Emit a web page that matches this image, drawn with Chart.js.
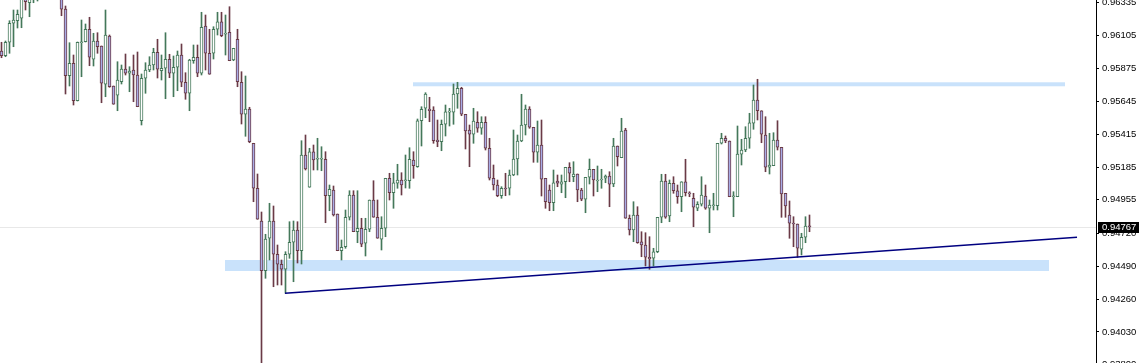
<!DOCTYPE html>
<html><head><meta charset="utf-8">
<script src="https://cdn.jsdelivr.net/npm/chart.js@4.4.1/dist/chart.umd.min.js"></script>
<style>
html,body{margin:0;padding:0;background:#fff;overflow:hidden;width:1143px;height:363px}
#wrap{position:absolute;left:0;top:-20px;width:1143px;height:403px}
</style></head><body><div id="wrap"><canvas id="c" width="1143" height="403"></canvas></div>
<script>
const openP = [0.95997,0.95964,0.96058,0.96191,0.96209,0.96226,0.96389,0.96335,0.96382,0.96396,
0.96438,0.96460,0.96440,0.96470,0.96450,0.96396,0.96291,0.95824,0.95911,0.95649,
0.96055,0.96062,0.96149,0.95939,0.96067,0.96032,0.95764,0.96102,0.95752,0.95687,
0.95782,0.95871,0.95841,0.95864,0.95829,0.95509,0.95806,0.95864,0.95899,0.95988,
0.95859,0.95876,0.95939,0.95841,0.95883,0.95969,0.95778,0.95701,0.95929,0.95953,
0.95841,0.96172,0.95981,0.95981,0.96149,0.96202,0.96114,0.96128,0.95934,0.96079,
0.95778,0.95554,0.95591,0.95351,0.95036,0.94807,0.94459,0.94686,0.94807,0.94574,
0.94504,0.94469,0.94574,0.94658,0.94744,0.94599,0.95269,0.95043,0.95292,0.95239,
0.95239,0.95239,0.94984,0.95024,0.94856,0.94599,0.94627,0.94833,0.94989,0.94732,
0.94756,0.94651,0.94749,0.94954,0.94833,0.94679,0.94756,0.95106,0.95005,0.95071,
0.95094,0.95089,0.95089,0.95234,0.95187,0.95509,0.95596,0.95591,0.95584,0.95374,
0.95362,0.95484,0.95568,0.95568,0.95696,0.95736,0.95554,0.95444,0.95414,0.95498,
0.95456,0.95498,0.95316,0.95106,0.95059,0.94984,0.95036,0.95036,0.95129,0.95241,
0.95367,0.95479,0.95591,0.95463,0.95288,0.95339,0.95106,0.95024,0.94935,0.95087,
0.95064,0.95082,0.95183,0.95117,0.95136,0.95024,0.94959,0.95113,0.95169,0.95087,
0.95094,0.95106,0.95122,0.95066,0.95332,0.95250,0.95444,0.94826,0.94744,0.94849,
0.94662,0.94639,0.94553,0.94546,0.94592,0.94833,0.95087,0.94842,0.95071,0.95019,
0.94977,0.95082,0.95005,0.94966,0.94896,0.94924,0.94982,0.94896,0.94914,0.94914,
0.95351,0.95386,0.95367,0.94977,0.94977,0.95274,0.95304,0.95386,0.95491,0.95654,
0.95579,0.95409,0.95183,0.95194,0.95374,0.95323,0.95001,0.94849,0.94791,0.94786,
0.94609,0.94693,0.94772];
const highP = [0.96058,0.96067,0.96209,0.96284,0.96284,0.96410,0.96424,0.96410,0.96452,0.96466,
0.96480,0.96500,0.96490,0.96500,0.96480,0.96438,0.96312,0.96055,0.95969,0.96060,
0.96214,0.96186,0.96233,0.96121,0.96125,0.96032,0.96284,0.96109,0.95752,0.95922,
0.95899,0.95976,0.95887,0.95969,0.95990,0.95836,0.95915,0.95957,0.96016,0.96079,
0.95969,0.96125,0.95974,0.95962,0.95997,0.96046,0.95845,0.95939,0.96039,0.96039,
0.96268,0.96249,0.96149,0.96167,0.96268,0.96268,0.96249,0.96307,0.96016,0.96149,
0.95852,0.95822,0.95603,0.95351,0.95136,0.94870,0.94714,0.94931,0.94912,0.94639,
0.94534,0.94592,0.94802,0.94807,0.94802,0.95369,0.95409,0.95316,0.95339,0.95386,
0.95327,0.95292,0.95059,0.95052,0.94856,0.94674,0.94884,0.95019,0.95019,0.95019,
0.94826,0.94826,0.94954,0.95089,0.94954,0.94837,0.95106,0.95141,0.95141,0.95204,
0.95145,0.95269,0.95320,0.95292,0.95521,0.95607,0.95705,0.95673,0.95607,0.95514,
0.95514,0.95619,0.95596,0.95766,0.95778,0.95743,0.95554,0.95479,0.95596,0.95572,
0.95537,0.95537,0.95386,0.95199,0.95094,0.95047,0.95141,0.95164,0.95444,0.95409,
0.95694,0.95619,0.95607,0.95463,0.95507,0.95514,0.95106,0.95059,0.95164,0.95129,
0.95129,0.95183,0.95215,0.95222,0.95136,0.95036,0.95113,0.95241,0.95169,0.95192,
0.95169,0.95129,0.95152,0.95386,0.95332,0.95526,0.95456,0.94849,0.94942,0.94907,
0.94732,0.94725,0.94697,0.94616,0.94833,0.95134,0.95134,0.95094,0.95117,0.95059,
0.95082,0.95239,0.95012,0.95001,0.94942,0.95117,0.95059,0.94954,0.95001,0.95351,
0.95421,0.95402,0.95367,0.95012,0.95472,0.95379,0.95467,0.95561,0.95759,0.95799,
0.95579,0.95537,0.95421,0.95425,0.95509,0.95323,0.95001,0.94947,0.94837,0.94786,
0.94721,0.94837,0.94849];
const lowP = [0.95950,0.95957,0.95981,0.96027,0.96158,0.96160,0.96284,0.96237,0.96335,0.96347,
0.96400,0.96420,0.96410,0.96430,0.96400,0.96244,0.95696,0.95752,0.95619,0.95647,
0.95817,0.96060,0.95894,0.95892,0.95981,0.95635,0.95677,0.95743,0.95624,0.95579,
0.95766,0.95829,0.95712,0.95642,0.95607,0.95479,0.95701,0.95852,0.95864,0.95808,
0.95794,0.95663,0.95810,0.95677,0.95719,0.95747,0.95659,0.95579,0.95911,0.95817,
0.95829,0.95864,0.95834,0.95941,0.96109,0.96097,0.95969,0.95929,0.95929,0.95747,
0.95486,0.95400,0.95355,0.94942,0.94819,0.93815,0.94406,0.94534,0.94347,0.94359,
0.94359,0.94301,0.94546,0.94382,0.94513,0.94506,0.95164,0.95043,0.95164,0.95164,
0.95159,0.94795,0.94879,0.94842,0.94599,0.94534,0.94616,0.94814,0.94732,0.94655,
0.94627,0.94562,0.94732,0.94833,0.94686,0.94604,0.94697,0.94954,0.94896,0.95036,
0.94989,0.95038,0.95036,0.95106,0.95183,0.95332,0.95530,0.95502,0.95351,0.95327,
0.95299,0.95402,0.95472,0.95484,0.95596,0.95544,0.95311,0.95187,0.95351,0.95428,
0.95414,0.95304,0.95094,0.95024,0.94977,0.94966,0.94984,0.94989,0.95124,0.95129,
0.95362,0.95409,0.95456,0.95218,0.95218,0.94982,0.94896,0.94879,0.94879,0.95047,
0.95005,0.94970,0.95082,0.95082,0.94942,0.94949,0.94865,0.95066,0.94982,0.95012,
0.95036,0.95075,0.94907,0.95047,0.95192,0.95250,0.94826,0.94709,0.94662,0.94651,
0.94557,0.94492,0.94469,0.94492,0.94585,0.94795,0.94826,0.94802,0.95001,0.94931,
0.94872,0.94982,0.94977,0.94767,0.94879,0.94912,0.94889,0.94725,0.94884,0.94884,
0.95346,0.95355,0.94977,0.94837,0.94977,0.95199,0.95292,0.95316,0.95449,0.95514,
0.95355,0.95152,0.95136,0.95194,0.95304,0.94833,0.94833,0.94686,0.94627,0.94553,
0.94569,0.94655,0.94732];
const closeP = [0.95964,0.96058,0.96191,0.96214,0.96254,0.96368,0.96342,0.96375,0.96424,0.96438,
0.96460,0.96440,0.96470,0.96450,0.96420,0.96289,0.95824,0.95911,0.95649,0.96058,
0.96060,0.96149,0.95953,0.96067,0.96027,0.95771,0.96109,0.95747,0.95624,0.95794,
0.95871,0.95841,0.95857,0.95829,0.95607,0.95806,0.95864,0.95899,0.95988,0.95869,
0.95876,0.95939,0.95841,0.95883,0.95969,0.95778,0.95701,0.95934,0.95953,0.95841,
0.96163,0.95981,0.95834,0.96149,0.96202,0.96104,0.96121,0.95929,0.96016,0.95782,
0.95554,0.95591,0.95362,0.95036,0.94819,0.94459,0.94681,0.94807,0.94574,0.94504,
0.94469,0.94574,0.94658,0.94744,0.94599,0.95269,0.95171,0.95292,0.95234,0.95246,
0.95246,0.94984,0.95029,0.94849,0.94599,0.94623,0.94833,0.94989,0.94732,0.94756,
0.94644,0.94749,0.94954,0.94833,0.94686,0.94756,0.95106,0.95005,0.95075,0.95094,
0.95059,0.95094,0.95239,0.95194,0.95509,0.95589,0.95696,0.95579,0.95369,0.95362,
0.95484,0.95572,0.95577,0.95696,0.95736,0.95554,0.95437,0.95414,0.95507,0.95456,
0.95498,0.95316,0.95106,0.95059,0.94984,0.95036,0.95031,0.95129,0.95241,0.95367,
0.95479,0.95591,0.95463,0.95288,0.95339,0.95099,0.94942,0.94935,0.95075,0.95071,
0.95082,0.95183,0.95141,0.95136,0.95024,0.94959,0.95113,0.95169,0.95094,0.95094,
0.95099,0.95122,0.95064,0.95332,0.95257,0.95437,0.94826,0.94744,0.94849,0.94655,
0.94639,0.94553,0.94541,0.94592,0.94833,0.95087,0.94833,0.95071,0.95019,0.94977,
0.95082,0.95005,0.94996,0.94903,0.94924,0.94989,0.94896,0.94919,0.94919,0.95351,
0.95386,0.95367,0.94977,0.94982,0.95276,0.95304,0.95386,0.95495,0.95654,0.95579,
0.95414,0.95183,0.95199,0.95374,0.95323,0.94996,0.94912,0.94791,0.94786,0.94616,
0.94693,0.94772,0.94767];
const yTicks = [0.96335,0.96105,0.95875,0.95645,0.95415,0.95185,0.94955,0.94720,0.94490,0.94260,0.94030,0.93800];
const currentPrice = 0.94767;
// drawn objects, in bar-index / price units
const upperZone = {x0: 102.875, x1: 265.875, top: 0.95778, bottom: 0.95750};
const lowerZone = {x0: 55.875, x1: 261.875, top: 0.94534, bottom: 0.94457};
const trendLine = {x0: 70.875, y0: 0.94301, x1: 268.875, y1: 0.94693};

const bullColor = '#44785a', bearColor = '#6a3a46', bearFill = '#a9ace6', bandColor = '#c9e2fb';
const idx = openP.map((_, i) => i);
const isBull = idx.map(i => closeP[i] >= openP[i]);
const bodies = idx.map(i => ({x: i, y: [openP[i], closeP[i]]}));
const wicks = idx.map(i => ({x: i, y: [lowP[i], highP[i]]}));
const font = {family: 'Liberation Sans', size: 9.5};

const overlay = {
  id: 'overlay',
  beforeDatasetsDraw(chart) {
    const {ctx, chartArea: a, scales: {x, y}} = chart;
    ctx.save();
    ctx.fillStyle = bandColor;
    for (const z of [upperZone, lowerZone]) {
      const x0 = x.getPixelForValue(z.x0), x1 = x.getPixelForValue(z.x1);
      const y0 = y.getPixelForValue(z.top), y1 = y.getPixelForValue(z.bottom);
      ctx.fillRect(x0, y0, x1 - x0, y1 - y0);
    }
    const py = Math.round(y.getPixelForValue(currentPrice)) + 0.5;
    ctx.strokeStyle = '#e8e8e8'; ctx.lineWidth = 1;
    ctx.beginPath(); ctx.moveTo(a.left, py); ctx.lineTo(a.right, py); ctx.stroke();
    ctx.restore();
  },
  afterDatasetsDraw(chart) {
    const {ctx, scales: {x, y}} = chart;
    ctx.save();
    ctx.strokeStyle = '#000080'; ctx.lineWidth = 1.5;
    ctx.beginPath();
    ctx.moveTo(x.getPixelForValue(trendLine.x0), y.getPixelForValue(trendLine.y0));
    ctx.lineTo(x.getPixelForValue(trendLine.x1), y.getPixelForValue(trendLine.y1));
    ctx.stroke();
    ctx.restore();
  },
  afterDraw(chart) {
    const {ctx, scales: {y}} = chart;
    const py = y.getPixelForValue(currentPrice);
    ctx.save();
    ctx.fillStyle = '#000';
    ctx.fillRect(y.left + 2, Math.round(py) - 5, 41, 11);
    ctx.fillStyle = '#fff';
    ctx.font = font.size + 'px "' + font.family + '"';
    ctx.textBaseline = 'middle'; ctx.textAlign = 'left';
    ctx.fillText(currentPrice.toFixed(5), y.left + 6, Math.round(py) + 0.5);
    ctx.restore();
  }
};

new Chart(document.getElementById('c'), {
  type: 'bar',
  data: {
    datasets: [
      {label: 'body', data: bodies, grouped: false, barThickness: 3, borderWidth: 1, borderSkipped: false,
       minBarLength: 1, order: 0,
       backgroundColor: isBull.map(b => b ? '#ffffff' : bearFill),
       borderColor: isBull.map(b => b ? bullColor : bearColor)},
      {label: 'wick', data: wicks, grouped: false, barThickness: 1, borderWidth: 0, order: 1,
       backgroundColor: isBull.map(b => b ? bullColor : bearColor)}
    ]
  },
  options: {
    responsive: false, animation: false, devicePixelRatio: 1,
    layout: {padding: 0},
    plugins: {legend: {display: false}, tooltip: {enabled: false}},
    scales: {
      x: {type: 'linear', display: false, min: -0.375, max: 273.625, offset: false, grid: {display: false}},
      y: {
        position: 'right', min: 0.93673, max: 0.96494,
        afterBuildTicks: s => { s.ticks = yTicks.map(v => ({value: v})); },
        afterFit: s => { s.width = 47; s.paddingTop = 0; s.paddingBottom = 0; },
        ticks: {callback: v => Number(v).toFixed(5), font: font, color: '#000', padding: 3, autoSkip: false, maxRotation: 0},
        grid: {drawOnChartArea: false, drawTicks: true, tickLength: 3, color: '#000'},
        border: {display: true, color: '#000', width: 1}
      }
    }
  },
  plugins: [overlay]
});
</script></body></html>
